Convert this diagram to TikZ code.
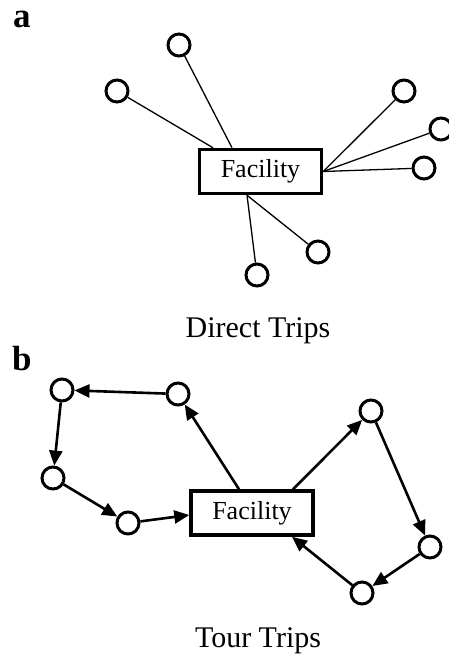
\documentclass[tikz,border=0pt]{standalone}
\usepackage{fontspec}
\setmainfont{Liberation Serif}
\usetikzlibrary{arrows.meta,calc}
\begin{document}
\begin{tikzpicture}[x=1pt,y=-1pt,
  stop/.style={circle,draw,line width=3pt,minimum size=22pt,inner sep=0pt},
  fac/.style={draw,line width=3.5pt,minimum width=122pt,minimum height=44pt,inner sep=0pt,font=\fontsize{26}{30}\selectfont},
  spoke/.style={line width=1.3pt},
  hop/.style={line width=2.6pt,-{Triangle[length=15pt,width=13pt]}},
  capt/.style={font=\fontsize{30}{36}\selectfont,anchor=base,inner sep=0pt},
  lab/.style={font=\fontsize{35}{40}\selectfont\bfseries,anchor=base west,inner sep=0pt}]
\useasboundingbox (0,0) rectangle (448,655);
% ---- part a ----
\node[lab] (la) at (13,28) {a};
\node[fac] (fa) at (260.5,171.5) {Facility};
\node[stop] (a1) at (117,91) {};
\node[stop] (a2) at (179,45) {};
\node[stop] (a3) at (404,91) {};
\node[stop] (a4) at (441,129) {};
\node[stop] (a5) at (424,168) {};
\node[stop] (a6) at (318,252) {};
\node[stop] (a7) at (257,275) {};
\draw[spoke] (a1) -- ([xshift=-47.5pt]fa.north);
\draw[spoke] (a2) -- ([xshift=-28.5pt]fa.north);
\draw[spoke] (a3) -- (fa.east);
\draw[spoke] (a4) -- (fa.east);
\draw[spoke] (a5) -- (fa.east);
\draw[spoke] (a6) -- ([xshift=-13.5pt]fa.south);
\draw[spoke] (a7) -- ([xshift=-13.5pt]fa.south);
\node[capt] (ca) at (258,337) {Direct Trips};
% ---- part b ----
\node[lab] (lb) at (12,370) {b};
\node[fac] (fb) at (252,513) {Facility};
\node[stop] (b1) at (62,390) {};
\node[stop] (b2) at (178,394) {};
\node[stop] (b3) at (53,478) {};
\node[stop] (b4) at (128,523) {};
\node[stop] (b5) at (371,411) {};
\node[stop] (b6) at (430,547) {};
\node[stop] (b7) at (362,593) {};
\draw[hop] (b2) -- (b1);
\draw[hop] (b1) -- (b3);
\draw[hop] (b3) -- (b4);
\draw[hop] (b4) -- ([yshift=-2pt]fb.west);
\draw[hop] ([xshift=-13pt]fb.north) -- (b2);
\draw[hop] ([xshift=41pt]fb.north) -- (b5);
\draw[hop] (b5) -- (b6);
\draw[hop] (b6) -- (b7);
\draw[hop] (b7) -- ([xshift=40pt]fb.south);
\node[capt] (cb) at (258,647) {Tour Trips};
\end{tikzpicture}
\end{document}
